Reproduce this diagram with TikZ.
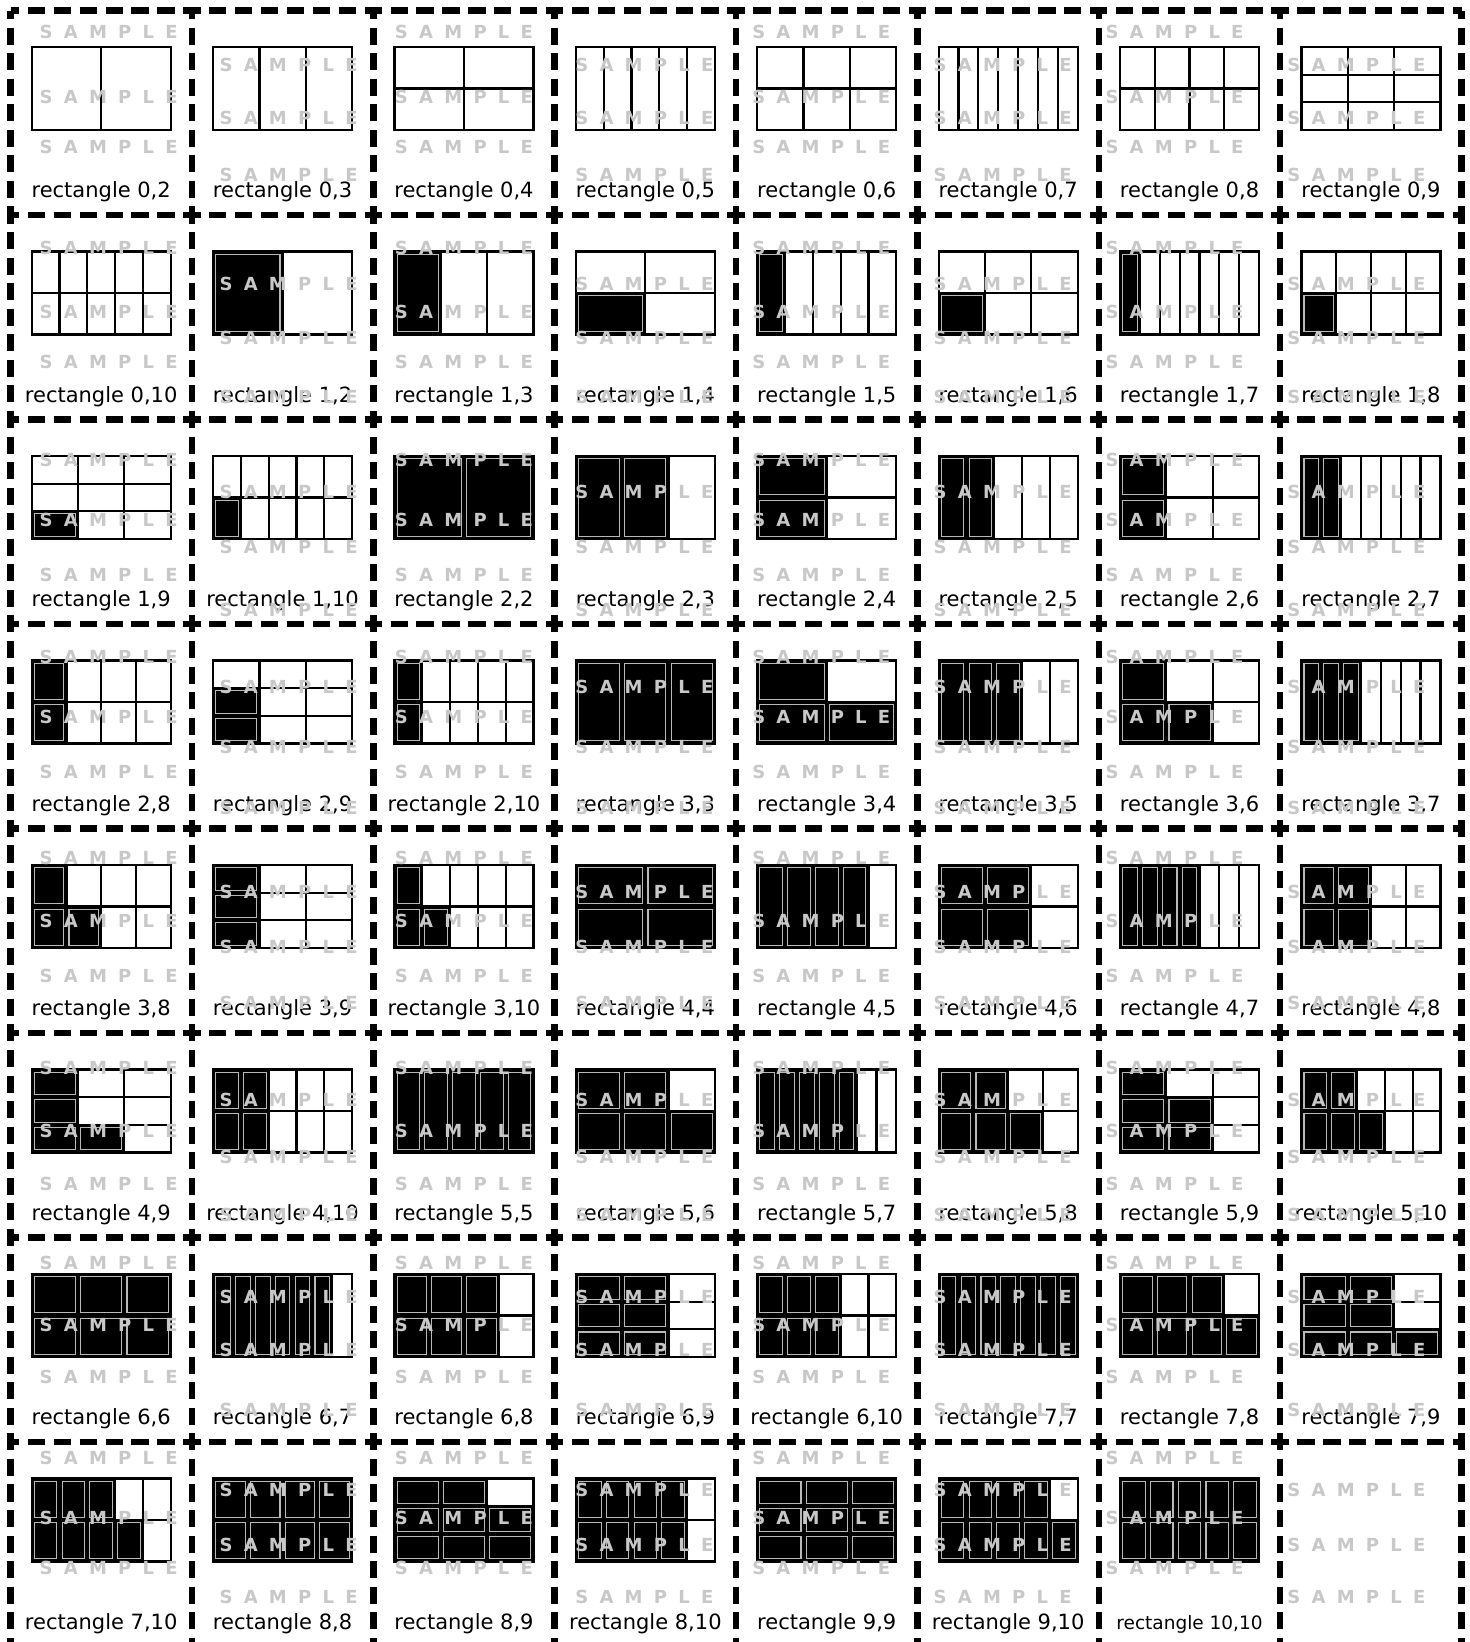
\documentclass[tikz,border=0pt]{standalone}
\usepackage{fontspec}
\setmainfont{DejaVu Sans}
\definecolor{wmgray}{RGB}{200,200,200}
\definecolor{insgray}{RGB}{185,185,185}
\tikzset{
  gridline/.style={line width=2.2pt, draw=black},
  insetline/.style={draw=insgray, line width=1.1pt},
  lbl/.style={font=\fontsize{21}{25}\selectfont, inner sep=0pt, anchor=base},
  lblsmall/.style={font=\fontsize{18.5}{22}\selectfont, inner sep=0pt, anchor=base},
  wm/.style={font=\fontsize{18}{21}\selectfont\bfseries, text=wmgray, inner sep=0pt},
  dashh/.style={line width=6.5pt, draw=black, dash pattern=on 17.27pt off 8.64pt, dash phase=8.64pt},
  dashv/.style={line width=6.5pt, draw=black, dash pattern=on 17.04pt off 8.52pt, dash phase=8.52pt}
}
\def\wmA{{32,97,147,248,312,362,460,520,575,657,717,772,858,921,976,1068,1131,1184,1263,1325,1377,1458,1518,1568}}
\def\wmB{{65,118,175,284,338,397,492,547,610,687,747,808,892,947,1003,1100,1157,1215,1297,1350,1410,1490,1545,1597}}
\def\wmdx{{7.5,6,0,-1,-5.5,-5.5,-15,-14.5}}
\newcommand{\fcell}[4]{%
 \begingroup
 \pgfmathsetmacro{\ccx}{10.5+181.39*(#1-0.5)}%
 \pgfmathsetmacro{\rowt}{10.5+204.5*(#2-1)}%
 \pgfmathsetmacro{\rleft}{\ccx-69.5}%
 \pgfmathsetmacro{\rtopp}{\rowt+78-41.5}%
 \def\rwid{139}\def\rhei{83}%
 \ifcase#4\or\or\def\nc{2}\def\nr{1}\or\def\nc{3}\def\nr{1}\or\def\nc{2}\def\nr{2}\or\def\nc{5}\def\nr{1}\or\def\nc{3}\def\nr{2}\or\def\nc{7}\def\nr{1}\or\def\nc{4}\def\nr{2}\or\def\nc{3}\def\nr{3}\or\def\nc{5}\def\nr{2}\fi
 \pgfmathsetmacro{\cw}{\rwid/\nc}%
 \pgfmathsetmacro{\chh}{\rhei/\nr}%
 \ifnum#3>0
  \foreach \k in {1,...,#3}{%
    \pgfmathtruncatemacro{\ci}{(\k-0.5)/\nr}%
    \pgfmathtruncatemacro{\ri}{mod(\k-1,\nr)}%
    \pgfmathsetmacro{\xa}{\rleft+\ci*\cw}%
    \pgfmathsetmacro{\xb}{\xa+\cw}%
    \pgfmathsetmacro{\yb}{\rtopp+\rhei-\ri*\chh}%
    \pgfmathsetmacro{\ya}{\yb-\chh}%
    \fill[black] (\xa,\ya) rectangle (\xb,\yb);
    \draw[insetline] (\xa+2.6,\ya+2.6) rectangle (\xb-2.6,\yb-2.6);
  }%
 \fi
 \draw[gridline] (\rleft,\rtopp) rectangle (\rleft+\rwid,\rtopp+\rhei);
 \pgfmathtruncatemacro{\ncm}{\nc-1}%
 \pgfmathtruncatemacro{\nrm}{\nr-1}%
 \ifnum\ncm>0
  \foreach \i in {1,...,\ncm}{\draw[gridline] (\rleft+\i*\cw,\rtopp) -- (\rleft+\i*\cw,\rtopp+\rhei);}%
 \fi
 \ifnum\nrm>0
  \foreach \j in {1,...,\nrm}{\draw[gridline] (\rleft,\rtopp+\j*\chh) -- (\rleft+\rwid,\rtopp+\j*\chh);}%
 \fi
 \ifnum#3=10
  \node[lblsmall] (lbl-#1-#2) at (\ccx,\rowt+187) {rectangle #3,#4};
 \else
  \node[lbl] (lbl-#1-#2) at (\ccx,\rowt+187) {rectangle #3,#4};
 \fi
 \endgroup
}
\newcommand{\wmarks}[2]{%
 \begingroup
 \pgfmathsetmacro{\wx}{10.5+181.39*(#1-0.5)+\wmdx[#1-1]}%
 \ifodd#1\relax\def\arr{\wmA}\else\def\arr{\wmB}\fi
 \foreach \k in {0,1,2}{%
   \pgfmathsetmacro{\wy}{\arr[3*(#2-1)+\k]}%
   \node[wm] (wm-#1-#2-\k) at (\wx,\wy) {\hbox to 138pt{S\hfil A\hfil M\hfil P\hfil L\hfil E}};
 }%
 \endgroup
}
\begin{document}
\begin{tikzpicture}[x=1pt,y=-1pt]
\useasboundingbox (0,0) rectangle (1470,1642);
\clip (0,0) rectangle (1470,1642);
\fill[white] (0,0) rectangle (1470,1642);
% row 1
\fcell{1}{1}{0}{2}\fcell{2}{1}{0}{3}\fcell{3}{1}{0}{4}\fcell{4}{1}{0}{5}\fcell{5}{1}{0}{6}\fcell{6}{1}{0}{7}\fcell{7}{1}{0}{8}\fcell{8}{1}{0}{9}
% row 2
\fcell{1}{2}{0}{10}\fcell{2}{2}{1}{2}\fcell{3}{2}{1}{3}\fcell{4}{2}{1}{4}\fcell{5}{2}{1}{5}\fcell{6}{2}{1}{6}\fcell{7}{2}{1}{7}\fcell{8}{2}{1}{8}
% row 3
\fcell{1}{3}{1}{9}\fcell{2}{3}{1}{10}\fcell{3}{3}{2}{2}\fcell{4}{3}{2}{3}\fcell{5}{3}{2}{4}\fcell{6}{3}{2}{5}\fcell{7}{3}{2}{6}\fcell{8}{3}{2}{7}
% row 4
\fcell{1}{4}{2}{8}\fcell{2}{4}{2}{9}\fcell{3}{4}{2}{10}\fcell{4}{4}{3}{3}\fcell{5}{4}{3}{4}\fcell{6}{4}{3}{5}\fcell{7}{4}{3}{6}\fcell{8}{4}{3}{7}
% row 5
\fcell{1}{5}{3}{8}\fcell{2}{5}{3}{9}\fcell{3}{5}{3}{10}\fcell{4}{5}{4}{4}\fcell{5}{5}{4}{5}\fcell{6}{5}{4}{6}\fcell{7}{5}{4}{7}\fcell{8}{5}{4}{8}
% row 6
\fcell{1}{6}{4}{9}\fcell{2}{6}{4}{10}\fcell{3}{6}{5}{5}\fcell{4}{6}{5}{6}\fcell{5}{6}{5}{7}\fcell{6}{6}{5}{8}\fcell{7}{6}{5}{9}\fcell{8}{6}{5}{10}
% row 7
\fcell{1}{7}{6}{6}\fcell{2}{7}{6}{7}\fcell{3}{7}{6}{8}\fcell{4}{7}{6}{9}\fcell{5}{7}{6}{10}\fcell{6}{7}{7}{7}\fcell{7}{7}{7}{8}\fcell{8}{7}{7}{9}
% row 8
\fcell{1}{8}{7}{10}\fcell{2}{8}{8}{8}\fcell{3}{8}{8}{9}\fcell{4}{8}{8}{10}\fcell{5}{8}{9}{9}\fcell{6}{8}{9}{10}\fcell{7}{8}{10}{10}
% watermarks
\foreach \c in {1,...,8}{\foreach \r in {1,...,8}{\wmarks{\c}{\r}}}
% dashed cell borders
\foreach \i in {0,...,8}{\draw[dashv] ({10.5+181.39*\i},10.5) -- ({10.5+181.39*\i},1646.5);}
\foreach \j in {0,...,8}{\draw[dashh] (10.5,{10.5+204.5*\j}) -- (1461.62,{10.5+204.5*\j});}
\end{tikzpicture}
\end{document}
